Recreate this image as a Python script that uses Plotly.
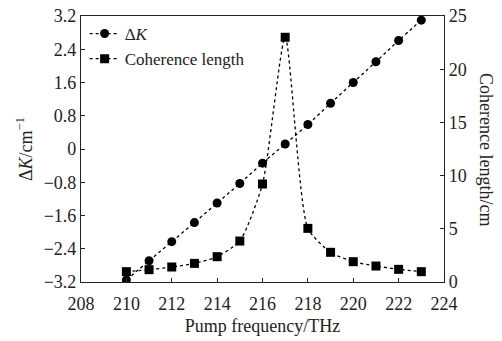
import plotly.graph_objects as go

freq = [210, 211, 212, 213, 214, 215, 216, 217, 218, 219, 220, 221, 222, 223]
delta_k = [-3.15, -2.69, -2.23, -1.77, -1.30, -0.83, -0.34, 0.12, 0.59, 1.10, 1.60, 2.10, 2.61, 3.10]
coh_len = [0.97, 1.16, 1.41, 1.75, 2.38, 3.85, 9.21, 23.0, 5.04, 2.79, 1.91, 1.50, 1.19, 0.97]

x_ticks = [208, 210, 212, 214, 216, 218, 220, 222, 224]
y1_ticks = [-3.2, -2.4, -1.6, -0.8, 0, 0.8, 1.6, 2.4, 3.2]
y1_text = ["\u22123.2", "\u22122.4", "\u22121.6", "\u22120.8", "0", "0.8", "1.6", "2.4", "3.2"]
y2_ticks = [0, 5, 10, 15, 20, 25]

FONT = "Liberation Serif"
FS = 18
fig = go.Figure()
fig.add_trace(go.Scatter(
    x=freq, y=delta_k, name="\u0394<i>K</i>", mode="lines+markers",
    line=dict(color="black", dash="dot", width=1.3, shape="spline"),
    marker=dict(symbol="circle", size=9, color="black"),
))
fig.add_trace(go.Scatter(
    x=freq, y=coh_len, name="Coherence length", mode="lines+markers", yaxis="y2",
    line=dict(color="black", dash="dot", width=1.3, shape="spline", smoothing=0.6),
    marker=dict(symbol="square", size=9, color="black"),
))

axis_common = dict(showline=True, linecolor="#222", linewidth=1.2, ticks="inside",
                   ticklen=4, tickcolor="#222", showgrid=False, zeroline=False,
                   automargin=False,
                   tickfont=dict(family=FONT, size=FS, color="#222"))

fig.update_layout(
    width=502, height=341,
    margin=dict(l=81, r=58, t=16, b=59, autoexpand=False),
    paper_bgcolor="white", plot_bgcolor="white",
    font=dict(family=FONT, size=FS, color="#222"),
    showlegend=True,
    legend=dict(x=0.01, y=1.0, xanchor="left", yanchor="top",
                bgcolor="rgba(0,0,0,0)", font=dict(family=FONT, size=17),
                tracegroupgap=0, itemwidth=30),
    xaxis=dict(range=[208, 224], tickvals=x_ticks, mirror=True, ticklabelstandoff=5,
               title=dict(text="Pump frequency/THz", font=dict(family=FONT, size=FS), standoff=6),
               **axis_common),
    yaxis=dict(range=[-3.2, 3.2], tickvals=y1_ticks, ticktext=y1_text, mirror=True,
               title=dict(text="\u0394<i>K</i>/cm<sup>\u22121</sup>", font=dict(family=FONT, size=FS), standoff=6),
               **axis_common),
    yaxis2=dict(range=[0, 25], tickvals=y2_ticks, overlaying="y", side="right",
                **axis_common),
)
fig.add_annotation(text="Coherence length/cm", xref="paper", yref="paper",
                   x=1.0, xshift=42, y=0.5, xanchor="center", yanchor="middle",
                   textangle=90, showarrow=False,
                   font=dict(family=FONT, size=FS, color="#222"))
fig.write_html("out.html", config={"displayModeBar": False, "responsive": False},
               post_script="document.body.style.margin='0';")
